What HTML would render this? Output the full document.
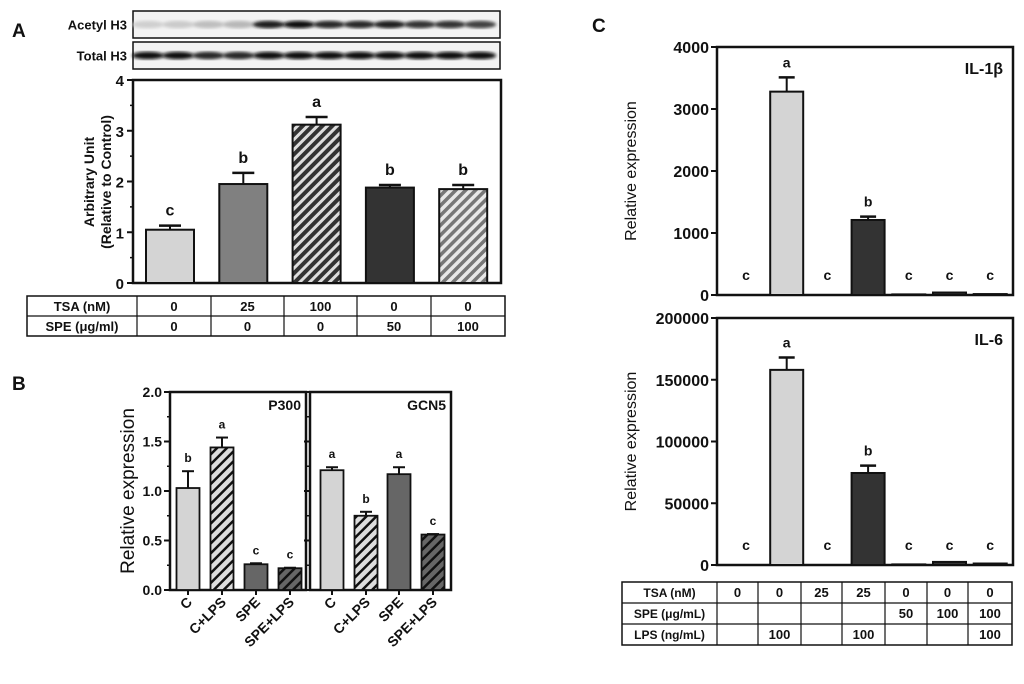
<!DOCTYPE html>
<html><head><meta charset="utf-8"><style>
body{margin:0;background:#fff;}
svg{display:block;font-family:"Liberation Sans",Arial,sans-serif;font-weight:bold;}
</style></head><body>
<svg id="fig" width="1024" height="684" viewBox="0 0 1024 684" xmlns="http://www.w3.org/2000/svg">
<defs>
<pattern id="hDark" patternUnits="userSpaceOnUse" width="7" height="7" patternTransform="rotate(45)"><rect width="7" height="7" fill="#ddd"/><rect width="4" height="7" fill="#333"/></pattern>
<pattern id="hGray" patternUnits="userSpaceOnUse" width="7" height="7" patternTransform="rotate(45)"><rect width="7" height="7" fill="#e8e8e8"/><rect width="3.5" height="7" fill="#777"/></pattern>
<pattern id="hLight" patternUnits="userSpaceOnUse" width="7" height="7" patternTransform="rotate(45)"><rect width="7" height="7" fill="#ddd"/><rect width="2.5" height="7" fill="#111"/></pattern>
<pattern id="hDG" patternUnits="userSpaceOnUse" width="7" height="7" patternTransform="rotate(45)"><rect width="7" height="7" fill="#666"/><rect width="2.5" height="7" fill="#111"/></pattern>
<filter id="blur"><feGaussianBlur stdDeviation="1.6"/></filter>
</defs>
<g id="root"></g>
</svg>
<script>
// Panel A data
const aCats=['0/0','25/0','100/0','0/50','0/100'];
const aVals=[1.05,1.95,3.12,1.88,1.85];
const aErr=[0.08,0.22,0.15,0.05,0.08];
const aLet=['c','b','a','b','b'];
const aFill=['#d4d4d4','#808080','url(#hDark)','#333','url(#hGray)'];
const aTicks=[0,1,2,3,4];
// Panel B data
const bCats=['C','C+LPS','SPE','SPE+LPS'];
const p300Vals=[1.03,1.44,0.26,0.22];
const p300Err=[0.17,0.10,0.01,0.005];
const p300Let=['b','a','c','c'];
const gcnVals=[1.21,0.75,1.17,0.56];
const gcnErr=[0.03,0.04,0.07,0.005];
const gcnLet=['a','b','a','c'];
const bTicks=['0.0','0.5','1.0','1.5','2.0'];
// Panel C data
const il1Vals=[0,3280,0,1210,10,40,15];
const il1Err=[0,230,0,55,0,0,0];
const il1Let=['c','a','c','b','c','c','c'];
const il1Ticks=[0,1000,2000,3000,4000];
const il6Vals=[0,158000,0,74500,500,2500,1200];
const il6Err=[0,10000,0,6000,0,0,0];
const il6Let=['c','a','c','b','c','c','c'];
const il6Ticks=[0,50000,100000,150000,200000];

const NS='http://www.w3.org/2000/svg';
const root=document.getElementById('root');
function el(t,a,p){const e=document.createElementNS(NS,t);for(const k in a)e.setAttribute(k,a[k]);(p||root).appendChild(e);return e;}
function txt(x,y,s,size,anchor,p,extra){const e=el('text',Object.assign({x:x,y:y,'font-size':size,'text-anchor':anchor||'middle',fill:'#111'},extra||{}),p);e.textContent=s;return e;}

let t;
t=txt(12,37,'A',19,'start');
t=txt(12,390,'B',19,'start');
t=txt(592,32,'C',19,'start');

// Blots
const blotG=el('g',{});


const acetylInt=[0.2,0.22,0.27,0.3,0.95,1.0,0.9,0.9,0.95,0.85,0.85,0.8];
const totalInt=[1,1,0.9,0.9,1,1,1,1,1,1,1,1];
[[11,38,acetylInt,'Acetyl H3'],[42,69,totalInt,'Total H3']].forEach(r=>{
  el('rect',{x:133,y:r[0],width:367,height:r[1]-r[0],fill:'#f3f3f3',stroke:'#111','stroke-width':1.5},blotG);
  const cy=(r[0]+r[1])/2;
  r[2].forEach((v,i)=>{const g=Math.round(255-v*240);el('ellipse',{cx:148+i*30.2,cy:cy,rx:16,ry:3.8,fill:`rgb(${g},${g},${g})`,filter:'url(#blur)'},blotG);});
  txt(127,cy+5,r[3],13,'end',blotG);
});

// Panel A chart
const A={x0:133,x1:501,y0:283,y1:80,max:4};
const ay=v=>A.y0-(v/A.max)*(A.y0-A.y1);
const ax=i=>170+i*73.3;
const gA=el('g',{});


el('rect',{x:A.x0,y:A.y1,width:A.x1-A.x0,height:A.y0-A.y1,fill:'none',stroke:'#111','stroke-width':2.5},gA);
aTicks.forEach(v=>{el('line',{x1:A.x0-6,x2:A.x0,y1:ay(v),y2:ay(v),stroke:'#111','stroke-width':2},gA);txt(A.x0-9,ay(v)+6,String(v),15,'end',gA);
 if(v<4)el('line',{x1:A.x0-3,x2:A.x0,y1:ay(v+0.5),y2:ay(v+0.5),stroke:'#111','stroke-width':1.5},gA);});
aVals.forEach((v,i)=>{const c=ax(i),w=48;
 const b=el('rect',{x:c-w/2,y:ay(v),width:w,height:A.y0-ay(v),fill:aFill[i],stroke:'#111','stroke-width':2},gA);
 
 
 const te=ay(v+aErr[i]);
 el('line',{x1:c,x2:c,y1:ay(v),y2:te,stroke:'#111','stroke-width':2},gA);
 el('line',{x1:c-11,x2:c+11,y1:te,y2:te,stroke:'#111','stroke-width':2.5},gA);
 txt(c,te-10,aLet[i],16,'middle',gA);});
const atitle=el('g',{transform:'translate(100,182) rotate(-90)'},gA);
txt(0,-6,'Arbitrary Unit',14,'middle',atitle);txt(0,11,'(Relative to Control)',14,'middle',atitle);
// table A
const tA=el('g',{});


const aCols=[27,137,211,284,357,431,505];
el('rect',{x:27,y:296,width:478,height:40,fill:'none',stroke:'#111','stroke-width':1.5},tA);
el('line',{x1:27,x2:505,y1:316,y2:316,stroke:'#111','stroke-width':1.2},tA);
aCols.slice(1,-1).forEach(x=>el('line',{x1:x,x2:x,y1:296,y2:336,stroke:'#111','stroke-width':1.2},tA));
const aRows=[['TSA (nM)','0','25','100','0','0'],['SPE (\u03bcg/ml)','0','0','0','50','100']];
aRows.forEach((r,ri)=>r.forEach((s,ci)=>txt((aCols[ci]+aCols[ci+1])/2,311+ri*20,s,13,'middle',tA)));

// Panel B
const B={y0:590,y1:392,max:2};
const by=v=>B.y0-(v/B.max)*(B.y0-B.y1);
function panelB(x0,x1,vals,errs,lets,name,centers,fills,labelTicks){
 const g=el('g',{});
 
 
 el('rect',{x:x0,y:B.y1,width:x1-x0,height:B.y0-B.y1,fill:'none',stroke:'#111','stroke-width':2.5},g);
 [0,0.25,0.5,0.75,1,1.25,1.5,1.75,2].forEach(v=>{const maj=(v*2)%1===0;
  el('line',{x1:x0-(maj?6:3),x2:x0,y1:by(v),y2:by(v),stroke:'#111','stroke-width':maj?2:1.5},g);});
 if(labelTicks)bTicks.forEach(s=>txt(x0-8,by(parseFloat(s))+5,s,14,'end',g));
 txt(x1-5,by(1.82),name,14,'end',g);
 vals.forEach((v,i)=>{const c=centers[i],w=23;
  const b=el('rect',{x:c-w/2,y:by(v),width:w,height:B.y0-by(v),fill:fills[i],stroke:'#111','stroke-width':1.8},g);
  
  
  const te=by(v+errs[i]);
  el('line',{x1:c,x2:c,y1:by(v),y2:te,stroke:'#111','stroke-width':2},g);
  el('line',{x1:c-6,x2:c+6,y1:te,y2:te,stroke:'#111','stroke-width':2},g);
  txt(c,te-9,lets[i],12,'middle',g);
  el('line',{x1:c,x2:c,y1:B.y0,y2:B.y0+5,stroke:'#111','stroke-width':2},g);
  const lg=el('g',{transform:`translate(${c+5},${B.y0+13}) rotate(-45)`},g);
  txt(0,0,bCats[i],14,'end',lg);});
}
const bf=['#d4d4d4','url(#hLight)','#666','url(#hDG)'];
panelB(170,306,p300Vals,p300Err,p300Let,'P300',[188,222,256,290],bf,true);
panelB(310,451,gcnVals,gcnErr,gcnLet,'GCN5',[332,366,399,433],bf,false);
const btitle=el('g',{transform:'translate(134,491) rotate(-90)'});


txt(0,0,'Relative expression',19,'middle',btitle,{'font-weight':'normal'});

// Panel C
function panelC(top,bottom,vals,errs,lets,ticks,max,label,name){
 const cy=v=>bottom-(v/max)*(bottom-top);
 const cx=i=>746+i*40.7;
 const g=el('g',{});
 
 
 el('rect',{x:717,y:top,width:296,height:bottom-top,fill:'none',stroke:'#111','stroke-width':2.5},g);
 ticks.forEach(v=>{el('line',{x1:711,x2:717,y1:cy(v),y2:cy(v),stroke:'#111','stroke-width':2},g);txt(709,cy(v)+6,String(v),16,'end',g);});
 txt(1003,top+27,label,16,'end',g);
 vals.forEach((v,i)=>{const c=cx(i),w=33;
  if(v>0){const b=el('rect',{x:c-w/2,y:cy(v),width:w,height:bottom-cy(v),fill:i===1?'#d4d4d4':'#333',stroke:'#111','stroke-width':2},g);
   
   }
  const te=cy(v+errs[i]);
  if(errs[i]>0){el('line',{x1:c,x2:c,y1:cy(v),y2:te,stroke:'#111','stroke-width':2},g);
   el('line',{x1:c-8,x2:c+8,y1:te,y2:te,stroke:'#111','stroke-width':2.5},g);}
  const ly=errs[i]>0?te-10:bottom-15;
  txt(c,ly,lets[i],14,'middle',g);});
 const tg=el('g',{transform:`translate(636,${(top+bottom)/2}) rotate(-90)`},g);
 txt(0,0,'Relative expression',16,'middle',tg,{'font-weight':'normal'});
}
panelC(47,295,il1Vals,il1Err,il1Let,il1Ticks,4000,'IL-1\u03b2','il-1b');
panelC(318,565,il6Vals,il6Err,il6Let,il6Ticks,200000,'IL-6','il-6');
// table C
const tC=el('g',{});


const cCols=[622,717,758,801,842,885,927,968,1012];
const cRowY=[582,603,624,645];
el('rect',{x:622,y:582,width:390,height:63,fill:'none',stroke:'#111','stroke-width':1.5},tC);
cRowY.slice(1,-1).forEach(y=>el('line',{x1:622,x2:1012,y1:y,y2:y,stroke:'#111','stroke-width':1.2},tC));
cCols.slice(1,-1).forEach(x=>el('line',{x1:x,x2:x,y1:582,y2:645,stroke:'#111','stroke-width':1.2},tC));
const cRows=[['TSA (nM)','0','0','25','25','0','0','0'],['SPE (\u03bcg/mL)','','','','','50','100','100'],['LPS (ng/mL)','','100','','100','','','100']];
cRows.forEach((r,ri)=>r.forEach((s,ci)=>{if(s)txt((cCols[ci]+cCols[ci+1])/2,cRowY[ri]+15,s,ci===0?12:13,'middle',tC);}));
</script>
</body></html>
